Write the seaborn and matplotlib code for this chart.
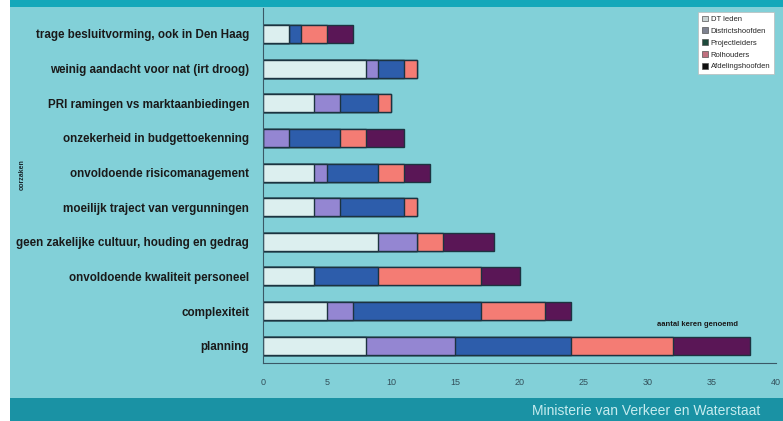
#!/usr/bin/env python3

# plot.py
#
# Stacked horizontal bars: hoofdoorzaken per groep respondenten.
import matplotlib
matplotlib.use('Agg')
import matplotlib.pyplot as plt
import matplotlib.patches as patches
import numpy as np
import pandas as pd
import seaborn as sb

CATEGORIES = [
  'trage besluitvorming, ook in Den Haag',
  'weinig aandacht voor nat (irt droog)',
  'PRI ramingen vs marktaanbiedingen',
  'onzekerheid in budgettoekenning',
  'onvoldoende risicomanagement',
  'moeilijk traject van vergunningen',
  'geen zakelijke cultuur, houding en gedrag',
  'onvoldoende kwaliteit personeel',
  'complexiteit',
  'planning',
]

# Number of mentions per group
DT_LEDEN         = [2, 8, 4, 0, 4, 4, 9, 4, 5, 8]
DISTRICTSHOOFDEN = [0, 1, 2, 2, 1, 2, 3, 0, 2, 7]
PROJECTLEIDERS   = [1, 2, 3, 4, 4, 5, 0, 5, 10, 9]
ROLHOUDERS       = [2, 1, 1, 2, 2, 1, 2, 8, 5, 8]
AFDELINGSHOOFDEN = [2, 0, 0, 3, 2, 0, 4, 3, 2, 6]

SERIES = ['DT leden', 'Districtshoofden', 'Projectleiders', 'Rolhouders', 'Afdelingshoofden']
COLORS = ['#dcefef', '#9486d2', '#2d5dab', '#f47c74', '#5a1656']
LEGEND_COLORS = ['#c9d3d3', '#7e8290', '#1d4a3c', '#c0707e', '#111111']
XTICKS = [0, 5, 10, 15, 20, 25, 30, 35, 40]

BACKGROUND = '#82d0d8'
TOP_BAND = '#14a8ba'
BOTTOM_BAND = '#1a92a4'
W, H = 783, 421


def main():
  sb.set_style('white')
  plt.rcParams['font.family'] = ['Liberation Sans', 'DejaVu Sans']

  df = pd.DataFrame({'category': CATEGORIES, 'DT leden': DT_LEDEN,
    'Districtshoofden': DISTRICTSHOOFDEN, 'Projectleiders': PROJECTLEIDERS,
    'Rolhouders': ROLHOUDERS, 'Afdelingshoofden': AFDELINGSHOOFDEN})
  cumulative = df[SERIES].cumsum(axis=1)

  figure = plt.figure(figsize=(W / 100, H / 100), dpi=100)
  figure.patch.set_facecolor('white')

  # Slide background and bands, kept behind the axes
  for rect, color in [((10 / W, 0, 1, 1), BACKGROUND),
                      ((10 / W, 1 - 7 / H, 1, 7 / H), TOP_BAND),
                      ((10 / W, 0, 1, 23 / H), BOTTOM_BAND)]:
    figure.patches.append(patches.Rectangle(rect[:2], rect[2], rect[3], transform=figure.transFigure,
      facecolor=color, edgecolor='none', zorder=-10))

  axis = figure.add_axes([263 / W, (H - 363) / H, (776 - 263) / W, (363 - 8) / H])
  axis.set_facecolor('none')

  # Draw the stacked bars from the outermost segment inwards
  for series, color in reversed(list(zip(SERIES, COLORS))):
    sb.barplot(x=cumulative[series], y=df['category'], color=color, orient='h', width=0.52,
      edgecolor='#1c3340', linewidth=1.0, saturation=1, ax=axis)

  axis.set_xlim(0, 40)
  axis.set_ylim(9.5, -0.75)
  axis.set_xticks(XTICKS)
  axis.set_xticklabels([str(x) for x in XTICKS], fontsize=6.5, color='#33505a')
  axis.set_yticks(range(len(CATEGORIES)))
  axis.set_yticklabels(CATEGORIES, fontsize=8.4, fontweight='bold', color='#1a1a1a')
  axis.set_yticks(np.arange(-0.5, 9.6, 1.0), minor=True)
  axis.tick_params(axis='y', which='major', length=0, pad=10)
  axis.tick_params(axis='y', which='minor', length=3, color='#3a5866', direction='out')
  axis.tick_params(axis='x', length=3, color='#3a5866', pad=8)
  axis.set_xlabel('')
  axis.set_ylabel('')
  sb.despine(ax=axis, top=True, right=True)
  for side in ['left', 'bottom']:
    axis.spines[side].set_color('#3a5866')
    axis.spines[side].set_linewidth(0.8)

  # Annotations
  axis.text(33.9, 8.4, 'aantal keren genoemd', fontsize=5.5, fontweight='bold',
    color='#1a1a1a', ha='center', va='center')
  figure.text(22 / W, 1 - 175 / H, 'oorzaken', rotation=90, fontsize=5, fontweight='bold',
    color='#1a2a30', ha='center', va='center')
  figure.text(760 / W, 1 - 411 / H, 'Ministerie van Verkeer en Waterstaat', fontsize=10,
    color='#c6ecef', ha='right', va='center')

  # Legend
  handles = [patches.Patch(facecolor=c, edgecolor='#555555', linewidth=0.5) for c in LEGEND_COLORS]
  legend = figure.legend(handles, SERIES, loc='upper right', bbox_to_anchor=(778 / W, 1 - 8 / H),
    fontsize=5.5, frameon=True, fancybox=False, framealpha=1, edgecolor='#bbbbbb',
    handlelength=0.8, handleheight=0.8, handletextpad=0.4, labelspacing=0.55, borderpad=0.5)
  legend.get_frame().set_linewidth(0.5)

  plt.savefig('out.png', dpi=100, facecolor=figure.get_facecolor())
  plt.close()


if __name__ == '__main__':
  main()
